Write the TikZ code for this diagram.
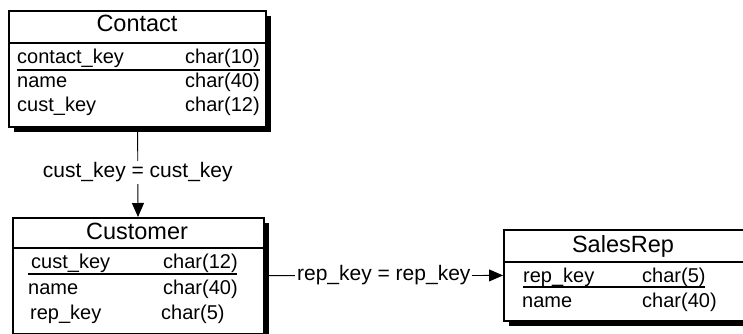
\documentclass[tikz,border=0pt]{standalone}
\usepackage{fontspec}
\setmainfont{Liberation Sans}
\usetikzlibrary{arrows.meta,shadows}

\begin{document}
\begin{tikzpicture}[
        x=1pt,y=-1pt,
        every node/.style={font=\fontsize{20}{24}\selectfont},
        tbl/.style={draw,line width=1.6pt,fill=white,rectangle,inner sep=0pt,anchor=north west,
            drop shadow={shadow xshift=5pt,shadow yshift=-5pt,fill=black,opacity=1}},
        title/.style={anchor=base,font=\fontsize{23.5}{28}\selectfont},
        field/.style={anchor=base west,inner sep=0pt},
        rule/.style={line width=1.6pt},
        rel/.style={-{Triangle[length=14pt,width=12pt]},line width=0.9pt},
        lbl/.style={fill=white,inner sep=2pt,font=\fontsize{21}{25}\selectfont}
    ]
        \useasboundingbox (0,0) rectangle (743,334);

        % tables
        \node[tbl,minimum width=257pt,minimum height=116pt] (contact) at (8,10) {};
        \node[tbl,minimum width=251pt,minimum height=116pt] (customer) at (12,217) {};
        \node[tbl,minimum width=250pt,minimum height=91pt] (salesrep) at (503,229) {};

        % Contact
        \node[title] (contact-t) at (137,32) {Contact};
        \draw[rule] (8,43) -- (265,43);
        \node[field] at (17,64) {contact\_key};
        \node[field] at (185,64) {char(10)};
        \draw[rule] (17,70) -- (260,70);
        \node[field] at (17,88) {name};
        \node[field] at (185,88) {char(40)};
        \node[field] at (17,111) {cust\_key};
        \node[field] at (185,111) {char(12)};

        % Customer
        \node[title] (customer-t) at (137,239) {Customer};
        \draw[rule] (12,248) -- (263,248);
        \node[field] at (31,268) {cust\_key};
        \node[field] at (163,268) {char(12)};
        \draw[rule] (28,274) -- (237,274);
        \node[field] at (28,294) {name};
        \node[field] at (163,294) {char(40)};
        \node[field] at (30,319) {rep\_key};
        \node[field] at (161,319) {char(5)};

        % SalesRep
        \node[title] (salesrep-t) at (623,252) {SalesRep};
        \draw[rule] (503,262) -- (753,262);
        \node[field] at (523,282) {rep\_key};
        \node[field] at (642,282) {char(5)};
        \draw[rule] (523,287) -- (705,287);
        \node[field] at (522,307) {name};
        \node[field] at (642,307) {char(40)};

        % relations
        \draw[rel] (contact) -- node[lbl] {cust\_key = cust\_key} (customer);
        \draw[rel] (customer) -- node[lbl] {rep\_key = rep\_key} (salesrep);
    \end{tikzpicture}
\end{document}
